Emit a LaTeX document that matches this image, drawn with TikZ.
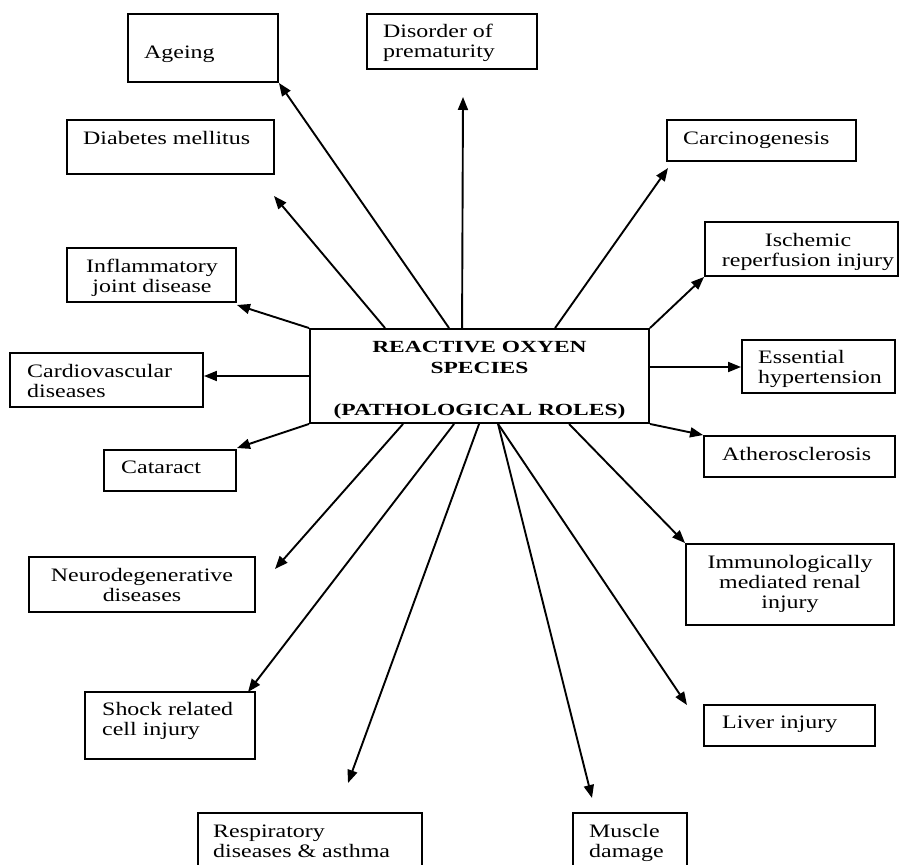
\documentclass[tikz,border=0pt]{standalone}
\usepackage{fontspec}
\setmainfont{Liberation Serif}[FakeStretch=1.26]
\newfontfamily\rosfont{Liberation Serif}[FakeStretch=1.38]
\usetikzlibrary{arrows.meta,calc}
\begin{document}
\begin{tikzpicture}[x=1pt,y=-1pt,
  box/.style={draw, line width=1.9pt, inner sep=0pt, rectangle},
  txt/.style={inner sep=0pt, font=\fontsize{19}{20}\selectfont},
  lt/.style={txt, anchor=base west, align=left},
  ct/.style={txt, anchor=base, align=center},
  arr/.style={line width=1.9pt, -{Triangle[length=13pt,width=10pt]}},
]
\clip (0,0) rectangle (901,864);
\fill[white] (0,0) rectangle (901,864);

% boxes
\node[box, minimum width=339pt, minimum height=94pt] (ros) at (479.5,376) {};
\node[box, minimum width=150pt, minimum height=68pt] (ageing) at (203,48) {};
\node[box, minimum width=170pt, minimum height=55pt] (disorder) at (452,41.5) {};
\node[box, minimum width=207pt, minimum height=54pt] (diabetes) at (170.5,147) {};
\node[box, minimum width=169pt, minimum height=54pt] (inflam) at (151.5,275) {};
\node[box, minimum width=193pt, minimum height=54pt] (cardio) at (106.5,380) {};
\node[box, minimum width=132pt, minimum height=41pt] (cataract) at (170,470.5) {};
\node[box, minimum width=226pt, minimum height=55pt] (neuro) at (142,584.5) {};
\node[box, minimum width=170pt, minimum height=67pt] (shock) at (170,725.5) {};
\node[box, minimum width=224pt, minimum height=62pt] (resp) at (310,844) {};
\node[box, minimum width=114pt, minimum height=62pt] (muscle) at (630,844) {};
\node[box, minimum width=171pt, minimum height=41pt] (liver) at (789.5,725.5) {};
\node[box, minimum width=208pt, minimum height=81pt] (immuno) at (790,584.5) {};
\node[box, minimum width=191pt, minimum height=41pt] (athero) at (799.5,456.5) {};
\node[box, minimum width=153pt, minimum height=53pt] (essential) at (818.5,366.5) {};
\node[box, minimum width=193pt, minimum height=54pt] (ischemic) at (801.5,249) {};
\node[box, minimum width=189pt, minimum height=41pt] (carcino) at (761.5,140.5) {};

% texts (multi-line nodes are placed by the baseline of their last line)
\node[inner sep=0pt, anchor=base, align=center, font=\rosfont\bfseries\fontsize{17}{21}\selectfont] (tros) at (479.5,415)
  {REACTIVE OXYEN\\SPECIES\\[21pt](PATHOLOGICAL ROLES)};
\node[lt] (tageing) at (144,59) {Ageing};
\node[lt] (tdisorder) at (383,58) {Disorder of\\prematurity};
\node[lt] (tdiabetes) at (83,144) {Diabetes mellitus};
\node[ct] (tinflam) at (152,292) {Inflammatory\\joint disease};
\node[lt] (tcardio) at (27,397) {Cardiovascular\\diseases};
\node[lt] (tcataract) at (121,473) {Cataract};
\node[ct] (tneuro) at (142,601) {Neurodegenerative\\diseases};
\node[lt] (tshock) at (102,735) {Shock related\\cell injury};
\node[lt] (tresp) at (213,857) {Respiratory\\diseases \& asthma};
\node[lt] (tmuscle) at (589,857) {Muscle\\damage};
\node[lt] (tliver) at (722,728) {Liver injury};
\node[ct] (timmuno) at (790,608) {Immunologically\\mediated renal\\injury};
\node[lt] (tathero) at (722,460) {Atherosclerosis};
\node[lt] (tessential) at (758,383) {Essential\\hypertension};
\node[ct] (tischemic) at (808,266) {Ischemic\\reperfusion injury};
\node[lt] (tcarcino) at (683,144) {Carcinogenesis};

% start points on the central box
\coordinate (s1) at ($(ros.north west)+(140,0)$);
\coordinate (s2) at ($(ros.north west)+(76,0)$);
\coordinate (s3) at ($(ros.north west)+(153,0)$);
\coordinate (s4) at ($(ros.north west)+(246,0)$);
\coordinate (s8) at ($(ros.south west)+(260,0)$);
\coordinate (s9) at ($(ros.south west)+(189,0)$);
\coordinate (s11) at ($(ros.south west)+(170,0)$);
\coordinate (s12) at ($(ros.south west)+(145,0)$);
\coordinate (s13) at ($(ros.south west)+(94,0)$);
\coordinate (s6) at ($(ros.east)+(0,-9)$);
% free ends
\coordinate (e2) at (274,196);
\coordinate (e3) at (463,97);
\coordinate (e4) at (668,168);
\coordinate (e9) at (687,705);
\coordinate (e10) at (592,798);
\coordinate (e11) at (348,783);
\coordinate (e12) at (248,692);
\coordinate (e13) at (275,569);
\coordinate (e16) at (237,305);
\coordinate (e14) at (237,448);

% connectors
\draw[arr] (s1) -- (ageing.south east);
\draw[arr] (s2) -- (e2);
\draw[arr] (s3) -- (e3);
\draw[arr] (s4) -- (e4);
\draw[arr] (ros.north east) -- (ischemic.south west);
\draw[arr] (s6) -- (s6 -| essential.west);
\draw[arr] (ros.south east) -- (athero.north west);
\draw[arr] (s8) -- (immuno.north west);
\draw[arr] (s9) -- (e9);
\draw[arr] (s9) -- (e10);
\draw[arr] (s11) -- (e11);
\draw[arr] (s12) -- (e12);
\draw[arr] (s13) -- (e13);
\draw[arr] (ros.south west) -- (e14);
\draw[arr] (ros.west) -- (ros.west -| cardio.east);
\draw[arr] (ros.north west) -- (e16);
\end{tikzpicture}
\end{document}
